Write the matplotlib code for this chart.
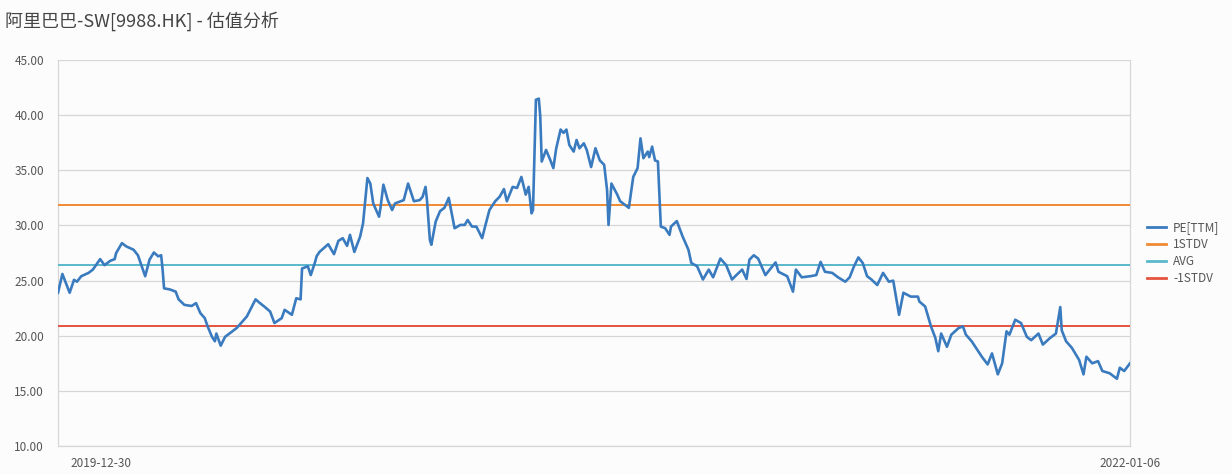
import matplotlib
matplotlib.use("Agg")
import matplotlib.pyplot as plt
import matplotlib.transforms as mtransforms
import pandas as pd
import numpy as np

plt.rcParams['font.family'] = ['Noto Sans CJK SC', 'DejaVu Sans']

title = "阿里巴巴-SW[9988.HK] - 估值分析"
start_date = "2019-12-30"
end_date = "2022-01-06"

# calendar-day offsets from start_date and PE(TTM) values
days = [0, 3, 8, 11, 13, 16, 21, 24, 29, 32, 36, 39, 40, 44, 47, 52, 55, 60, 63, 66,
        69, 71, 72, 73, 77, 81, 83, 87, 92, 95, 98, 101, 103, 106, 108, 109, 112, 115, 118, 123,
        126, 130, 136, 139, 142, 146, 149, 154, 156, 161, 164, 167, 168, 172, 174, 177, 178, 180, 183, 186,
        190, 193, 196, 199, 201, 204, 208, 210, 213, 215, 217, 221, 222, 224, 227, 230, 232, 238, 241, 245,
        249, 251, 253, 254, 256, 257, 260, 263, 266, 269, 271, 273, 277, 280, 282, 285, 288, 292, 294, 297,
        301, 304, 307, 309, 313, 316, 319, 322, 324, 326, 327, 329, 331, 332, 333, 336, 339, 341, 343, 346,
        348, 350, 352, 355, 357, 359, 362, 364, 367, 370, 373, 376, 378, 379, 381, 385, 387, 390, 393, 396,
        399, 401, 403, 406, 407, 409, 411, 413, 415, 418, 421, 422, 426, 430, 434, 436, 440, 444, 448, 451,
        456, 460, 464, 467, 471, 474, 476, 479, 482, 487, 490, 494, 496, 502, 506, 508, 512, 518, 522, 525,
        528, 533, 537, 542, 545, 548, 551, 554, 557, 560, 564, 568, 572, 575, 579, 582, 587, 592, 593, 597,
        601, 604, 606, 608, 612, 615, 620, 623, 625, 629, 632, 636, 640, 643, 647, 650, 653, 655, 659, 663,
        667, 670, 675, 678, 683, 687, 690, 691, 694, 698, 703, 706, 708, 712, 716, 719, 724, 729, 731, 734,
        738]
pe_ttm = [23.9, 25.6, 23.9, 25.07, 24.9, 25.4, 25.7, 26.0, 26.95, 26.4, 26.8, 26.95, 27.5, 28.4, 28.1, 27.8, 27.3, 25.4, 26.9, 27.55,
          27.2, 27.3, 26.0, 24.3, 24.2, 24.0, 23.3, 22.8, 22.7, 22.96, 22.05, 21.6, 20.85, 19.9, 19.5, 20.2, 19.1, 19.9, 20.2, 20.7,
          21.15, 21.75, 23.3, 22.96, 22.65, 22.2, 21.15, 21.6, 22.35, 21.9, 23.4, 23.3, 26.1, 26.3, 25.5, 26.7, 27.2, 27.6, 27.95, 28.3,
          27.4, 28.6, 28.85, 28.15, 29.15, 27.6, 29.0, 30.2, 34.3, 33.8, 32.0, 30.8, 31.6, 33.7, 32.3, 31.4, 32.0, 32.3, 33.8, 32.2,
          32.3, 32.6, 33.5, 32.3, 28.7, 28.25, 30.35, 31.3, 31.6, 32.5, 31.1, 29.75, 30.05, 30.05, 30.5, 29.9, 29.9, 28.85, 29.9, 31.4,
          32.2, 32.6, 33.3, 32.2, 33.5, 33.4, 34.4, 32.8, 33.5, 31.1, 31.4, 41.4, 41.5, 39.9, 35.8, 36.85, 35.9, 35.2, 37.0, 38.7,
          38.4, 38.7, 37.3, 36.7, 37.75, 37.0, 37.45, 36.85, 35.3, 37.0, 35.9, 35.5, 33.2, 30.05, 33.8, 32.8, 32.2, 31.9, 31.6, 34.4,
          35.2, 37.9, 36.1, 36.7, 36.2, 37.15, 35.9, 35.8, 29.9, 29.75, 29.15, 29.9, 30.4, 29.0, 27.8, 26.6, 26.3, 25.1, 26.0, 25.3,
          27.0, 26.4, 25.1, 25.5, 26.0, 25.15, 26.9, 27.3, 27.0, 25.5, 26.0, 26.65, 25.8, 25.4, 24.0, 26.0, 25.3, 25.4, 25.5, 26.7,
          25.8, 25.7, 25.3, 24.9, 25.3, 26.3, 27.1, 26.6, 25.4, 25.1, 24.6, 25.7, 24.9, 25.0, 21.9, 23.9, 23.55, 23.55, 23.1, 22.65,
          20.85, 19.8, 18.6, 20.2, 19.0, 20.1, 20.7, 20.85, 20.1, 19.5, 18.9, 18.1, 17.4, 18.4, 16.5, 17.5, 20.4, 20.1, 21.45, 21.15,
          19.9, 19.6, 20.2, 19.2, 19.8, 20.2, 22.6, 20.5, 19.5, 18.9, 17.8, 16.5, 18.1, 17.5, 17.7, 16.8, 16.6, 16.1, 17.1, 16.8,
          17.5]

avg_val = 26.4
plus_1std = 31.9
minus_1std = 20.9

series_names = ["PE[TTM]", "1STDV", "AVG", "-1STDV"]
y_ticks = [10, 15, 20, 25, 30, 35, 40, 45]

dates = pd.Timestamp(start_date) + pd.to_timedelta(days, unit="D")
d0, d1 = pd.Timestamp(start_date), pd.Timestamp(end_date)

fig = plt.figure(figsize=(12.32, 4.74), dpi=100)
fig.patch.set_facecolor("#fcfcfc")
ax = fig.add_axes([0.0471, 0.059, 0.8701, 0.8143])
ax.set_facecolor("#fcfcfc")

c_pe = "#3a7bbf"
c_p1 = "#f08a33"
c_avg = "#5ab8cc"
c_m1 = "#e5533f"

ax.plot(dates, pe_ttm, color=c_pe, lw=1.9, label=series_names[0], zorder=5)
ax.axhline(plus_1std, color=c_p1, lw=1.4, label=series_names[1], zorder=3)
ax.axhline(avg_val, color=c_avg, lw=1.4, label=series_names[2], zorder=3)
ax.axhline(minus_1std, color=c_m1, lw=1.4, label=series_names[3], zorder=3)

ax.set_xlim(d0, d1)
ax.set_ylim(10, 45)
ax.set_yticks(y_ticks)
ax.set_yticklabels([f"{v:.2f}" for v in y_ticks])
ax.grid(axis="y", color="#d6d6d6", lw=0.9, zorder=0)
ax.set_axisbelow(True)

for s in ax.spines.values():
    s.set_color("#d6d6d6")
    s.set_linewidth(0.9)
ax.spines["top"].set_visible(False)

ax.tick_params(axis="y", length=0, pad=10, labelsize=8.5, labelcolor="#555555")
ax.tick_params(axis="x", length=0, pad=8, labelsize=8.5, labelcolor="#555555")
ax.set_xticks([d0, d1])
ax.set_xticklabels([start_date, end_date])
lbls = ax.get_xticklabels()
lbls[0].set_horizontalalignment("left")
lbls[0].set_transform(lbls[0].get_transform() + mtransforms.ScaledTranslation(12 / 100, 0, fig.dpi_scale_trans))

fig.text(0.004, 0.955, title, fontsize=13, color="#444444", ha="left", va="center")

leg = ax.legend(loc="center left", bbox_to_anchor=(1.006, 0.5), frameon=False,
                fontsize=8.5, handlelength=1.6, handletextpad=0.6, labelspacing=0.35,
                labelcolor="#555555")
for line in leg.get_lines():
    line.set_linewidth(2.0)

fig.savefig("out.png", dpi=100, facecolor=fig.get_facecolor())
